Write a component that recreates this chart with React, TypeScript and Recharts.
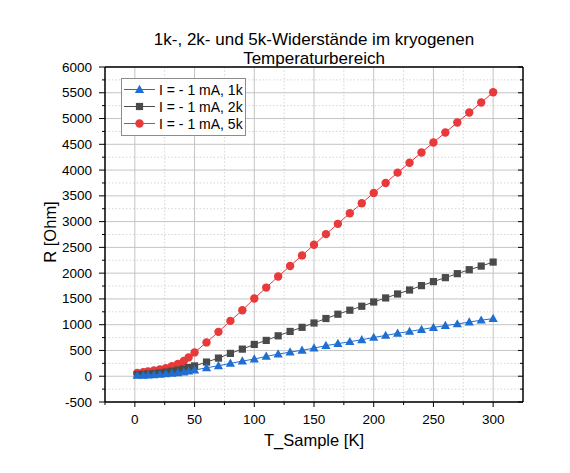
import { ScatterChart, Scatter, XAxis, YAxis, CartesianGrid, Legend } from "recharts";

// temperature steps of the measurement [K]
const temperatures = [
  2, 7, 11, 16, 21, 26, 31, 36, 41, 45, 50, 60, 70, 80, 90, 100, 110, 120,
  130, 140, 150, 160, 170, 180, 190, 200, 210, 220, 230, 240, 250, 260, 270,
  280, 290, 300,
];

// resistance [Ohm], I = -1 mA
const r1k = [
  15, 18, 22, 28, 35, 44, 55, 68, 82, 98, 118, 164, 203, 249, 294, 333, 385,
  429, 468, 504, 546, 594, 632, 670, 708, 752, 791, 834, 869, 907, 946, 983,
  1014, 1052, 1087, 1118,
];
const r2k = [
  30, 35, 42, 52, 64, 80, 98, 120, 145, 170, 200, 275, 352, 443, 526, 617,
  695, 784, 869, 949, 1033, 1120, 1203, 1281, 1358, 1441, 1519, 1596, 1673,
  1758, 1836, 1913, 1990, 2067, 2137, 2215,
];
const r5k = [
  65, 80, 95, 110, 133, 158, 195, 237, 295, 365, 462, 656, 861, 1074, 1280,
  1507, 1720, 1935, 2140, 2344, 2551, 2757, 2957, 3162, 3356, 3557, 3750,
  3950, 4143, 4342, 4536, 4730, 4923, 5116, 5310, 5510,
];

const xTicks = [-25, 0, 25, 50, 75, 100, 125, 150, 175, 200, 225, 250, 275, 300];
const xMajor = [0, 50, 100, 150, 200, 250, 300];
const yTicks = [
  -500, -250, 0, 250, 500, 750, 1000, 1250, 1500, 1750, 2000, 2250, 2500,
  2750, 3000, 3250, 3500, 3750, 4000, 4250, 4500, 4750, 5000, 5250, 5500,
  5750, 6000,
];
const yMajor = [
  -500, 0, 500, 1000, 1500, 2000, 2500, 3000, 3500, 4000, 4500, 5000, 5500, 6000,
];

const FONT = "'Liberation Sans', Arial, sans-serif";

type Kind = "triangle" | "square" | "circle";

const series: { name: string; kind: Kind; color: string; values: number[] }[] = [
  { name: "I = - 1 mA, 1k", kind: "triangle", color: "#1f6fd2", values: r1k },
  { name: "I = - 1 mA, 2k", kind: "square", color: "#4a4a4a", values: r2k },
  { name: "I = - 1 mA, 5k", kind: "circle", color: "#e8393b", values: r5k },
];

function Marker({ kind, cx, cy, color }: { kind: Kind; cx: number; cy: number; color: string }) {
  if (kind === "triangle") {
    return (
      <path
        d={`M${cx},${cy - 4.8}L${cx + 4.6},${cy + 3.4}L${cx - 4.6},${cy + 3.4}Z`}
        fill={color}
      />
    );
  }
  if (kind === "square") {
    return <rect x={cx - 3.6} y={cy - 3.6} width={7.2} height={7.2} fill={color} />;
  }
  return <circle cx={cx} cy={cy} r={4.2} fill={color} />;
}

const isMajorX = (v: number) => xMajor.includes(v);
const isMajorY = (v: number) => yMajor.includes(v);

function BottomTick({ x, y, payload }: any) {
  const major = isMajorX(payload.value);
  return (
    <g>
      <line x1={x} x2={x} y1={y} y2={y + (major ? 5 : 3)} stroke="#000" />
      {major && (
        <text x={x} y={y + 17} textAnchor="middle" dominantBaseline="central"
          fontSize={13.5} fontFamily={FONT} fill="#000">
          {payload.value}
        </text>
      )}
    </g>
  );
}

function TopTick({ x, y, payload }: any) {
  const major = isMajorX(payload.value);
  return <line x1={x} x2={x} y1={y} y2={y + (major ? 5 : 3)} stroke="#000" />;
}

function LeftTick({ x, y, payload }: any) {
  const major = isMajorY(payload.value);
  return (
    <g>
      <line x1={x} x2={x - (major ? 6 : 3)} y1={y} y2={y} stroke="#000" />
      {major && (
        <text x={x - 13} y={y} textAnchor="end" dominantBaseline="central"
          fontSize={13.5} fontFamily={FONT} fill="#000">
          {payload.value}
        </text>
      )}
    </g>
  );
}

function RightTick({ x, y, payload }: any) {
  const major = isMajorY(payload.value);
  return <line x1={x} x2={x - (major ? 5 : 3)} y1={y} y2={y} stroke="#000" />;
}

function LegendBox() {
  return (
    <div
      style={{
        border: "1px solid #8c8c8c",
        background: "#fff",
        width: 123,
        height: 54,
        boxSizing: "content-box",
        fontFamily: FONT,
        fontSize: 14,
        paddingTop: 2,
      }}
    >
      {series.map((s) => (
        <div key={s.name} style={{ display: "flex", alignItems: "center", height: 17 }}>
          <svg width={37} height={17} style={{ flex: "none" }}>
            <line x1={2} x2={33} y1={8.5} y2={8.5} stroke={s.color} strokeWidth={1} />
            <Marker kind={s.kind} cx={17.5} cy={8.5} color={s.color} />
          </svg>
          <span style={{ whiteSpace: "nowrap" }}>{s.name}</span>
        </div>
      ))}
    </div>
  );
}

export default function App() {
  const xMinor = xTicks.filter((v) => !isMajorX(v));
  const yMinor = yTicks.filter((v) => !isMajorY(v));
  const axisStroke = { stroke: "#000", strokeWidth: 1.5 };

  return (
    <div style={{ position: "absolute", left: 0, top: 0, width: 570, height: 473, background: "#fff", fontFamily: FONT }}>
      <div
        style={{
          position: "absolute",
          left: 0,
          width: 628,
          top: 30,
          textAlign: "center",
          fontSize: 17,
          lineHeight: "19px",
        }}
      >
        1k-, 2k- und 5k-Widerstände im kryogenen
        <br />
        Temperaturbereich
      </div>
      <div
        style={{
          position: "absolute",
          left: 0,
          width: 628,
          top: 430,
          textAlign: "center",
          fontSize: 16.5,
          lineHeight: "20px",
        }}
      >
        T_Sample [K]
      </div>
      <div
        style={{
          position: "absolute",
          left: 50 - 50,
          top: 232 - 10,
          width: 100,
          height: 20,
          lineHeight: "20px",
          textAlign: "center",
          fontSize: 16.5,
          transform: "rotate(-90deg)",
        }}
      >
        R [Ohm]
      </div>
      <ScatterChart
        width={570}
        height={473}
        margin={{ top: 62, right: 42, bottom: 41, left: 48 }}
        style={{ position: "absolute", left: 0, top: 0 }}
      >
        <CartesianGrid
          horizontalValues={yMinor}
          verticalValues={xMinor}
          stroke="#d6d6d6"
          strokeDasharray="1.5 2"
        />
        <CartesianGrid horizontalValues={yMajor} verticalValues={xMajor} stroke="#c4c4c4" />
        <XAxis
          dataKey="x"
          type="number"
          domain={[-25, 325]}
          ticks={xTicks}
          interval={0}
          height={30}
          tickSize={0}
          tickMargin={0}
          tickLine={false}
          axisLine={axisStroke}
          tick={<BottomTick />}
          allowDataOverflow
        />
        <XAxis
          xAxisId="top"
          orientation="top"
          type="number"
          domain={[-25, 325]}
          ticks={xTicks}
          interval={0}
          height={5}
          tickSize={0}
          tickMargin={0}
          tickLine={false}
          axisLine={axisStroke}
          tick={<TopTick />}
          allowDataOverflow
        />
        <YAxis
          dataKey="y"
          type="number"
          domain={[-500, 6000]}
          ticks={yTicks}
          interval={0}
          width={57}
          tickSize={0}
          tickMargin={0}
          tickLine={false}
          axisLine={axisStroke}
          tick={<LeftTick />}
          allowDataOverflow
        />
        <YAxis
          yAxisId="right"
          orientation="right"
          type="number"
          domain={[-500, 6000]}
          ticks={yTicks}
          interval={0}
          width={5}
          tickSize={0}
          tickMargin={0}
          tickLine={false}
          axisLine={axisStroke}
          tick={<RightTick />}
          allowDataOverflow
        />
        <Legend
          layout="vertical"
          align="center"
          verticalAlign="middle"
          wrapperStyle={{ left: 121, top: 78, width: 125 }}
          content={() => <LegendBox />}
        />
        {[...series].reverse().map((s) => (
          <Scatter
            key={s.name}
            name={s.name}
            data={temperatures.map((t, i) => ({ x: t, y: s.values[i] }))}
            fill={s.color}
            line={{ stroke: s.color, strokeWidth: 1 }}
            lineType="joint"
            shape={(p: any) => <Marker kind={s.kind} cx={p.cx} cy={p.cy} color={s.color} />}
            isAnimationActive={false}
          />
        ))}
      </ScatterChart>
    </div>
  );
}
